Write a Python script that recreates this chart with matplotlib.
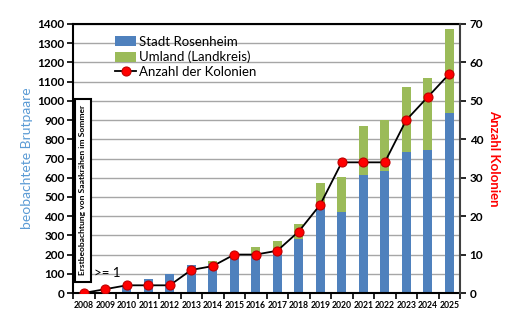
import numpy as np
import matplotlib.pyplot as plt
from matplotlib.patches import Rectangle

plt.rcParams['font.family'] = ['Lato', 'DejaVu Sans']

# data
years = [str(y) for y in range(2008, 2026)]
stadt = [0, 5, 35, 72, 99, 146, 152, 195, 198, 224, 279, 449, 420, 614, 635, 734, 742, 938]
umland = [0, 0, 0, 0, 0, 0, 13, 0, 41, 47, 80, 122, 183, 257, 265, 337, 379, 436]
kolonien = [0, 1, 2, 2, 2, 6, 7, 10, 10, 11, 16, 23, 34, 34, 34, 45, 51, 57]

blue = '#4F81BD'
green = '#9BBB59'

fig = plt.figure(figsize=(5.19, 3.35), dpi=100)
ax = fig.add_axes([73/519, 1-293/335, 387/519, 269/335])
x = np.arange(len(years))

ax.bar(x, stadt, width=0.4, color=blue, label='Stadt Rosenheim', zorder=2)
ax.bar(x, umland, width=0.4, bottom=stadt, color=green, label='Umland (Landkreis)', zorder=2)

ax.set_xlim(-0.5, len(years) - 0.5)
ax.set_ylim(0, 1400)
ax.set_yticks(range(0, 1401, 100))
ax.tick_params(axis='y', labelsize=8.5, direction='out', length=4, width=1.2, pad=2)
for t in ax.get_yticklabels():
    t.set_fontweight('bold')
ax.set_xticks(x)
ax.set_xticklabels(years, fontsize=6.2, fontweight='bold')
ax.set_xticks(np.arange(-0.5, len(years)), minor=True)
ax.tick_params(axis='x', which='major', length=0, pad=6)
ax.tick_params(axis='x', which='minor', length=4, width=1.2, direction='out')
ax.grid(axis='y', color='#A6A6A6', linewidth=1, zorder=0)
ax.set_axisbelow(True)
for s in ['left', 'bottom', 'top']:
    ax.spines[s].set_linewidth(1.5)
    ax.spines[s].set_color('black')
ax.spines['right'].set_visible(False)
ax.set_ylabel('beobachtete Brutpaare', color='#5B9BD5', fontsize=10, labelpad=3)

ax2 = ax.twinx()
ax2.plot(x, kolonien, color='black', linewidth=1.3, marker='o', markersize=6.5,
         markerfacecolor='red', markeredgecolor='#C00000', markeredgewidth=0.8,
         label='Anzahl der Kolonien', zorder=5)
ax2.set_ylim(0, 70)
ax2.set_yticks(range(0, 71, 10))
ax2.tick_params(axis='y', labelsize=8.5, direction='out', length=4, width=1.2, pad=3)
for t in ax2.get_yticklabels():
    t.set_fontweight('bold')
ax2.spines['right'].set_linewidth(1.5)
ax2.spines['right'].set_color('#404040')
for s in ['left', 'bottom', 'top']:
    ax2.spines[s].set_visible(False)
ax2.set_ylabel('Anzahl Kolonien', color='red', fontsize=9.5, fontweight='bold',
               rotation=270, labelpad=12)

# annotation box for first observation
ax.add_patch(Rectangle((-0.43, 55), 0.79, 955, facecolor='white', edgecolor='black',
                       linewidth=1.5, zorder=6))
ax.text(-0.04, 535, 'Erstbeobachtung von Saatkrähen im Sommer', rotation=90,
        ha='center', va='center', fontsize=6.1, fontweight='bold', zorder=7)
ax.text(0.5, 105, '>= 1', fontsize=9.5, ha='left', va='center', zorder=6)

h1, l1 = ax.get_legend_handles_labels()
h2, l2 = ax2.get_legend_handles_labels()
ax2.legend(h1 + h2, l1 + l2, loc='upper left', bbox_to_anchor=(0.095, 0.975),
           frameon=False, fontsize=9.5, handlelength=1.6, handleheight=0.8,
           handletextpad=0.2, labelspacing=0.2, borderaxespad=0)

fig.savefig('out.png', dpi=100)
